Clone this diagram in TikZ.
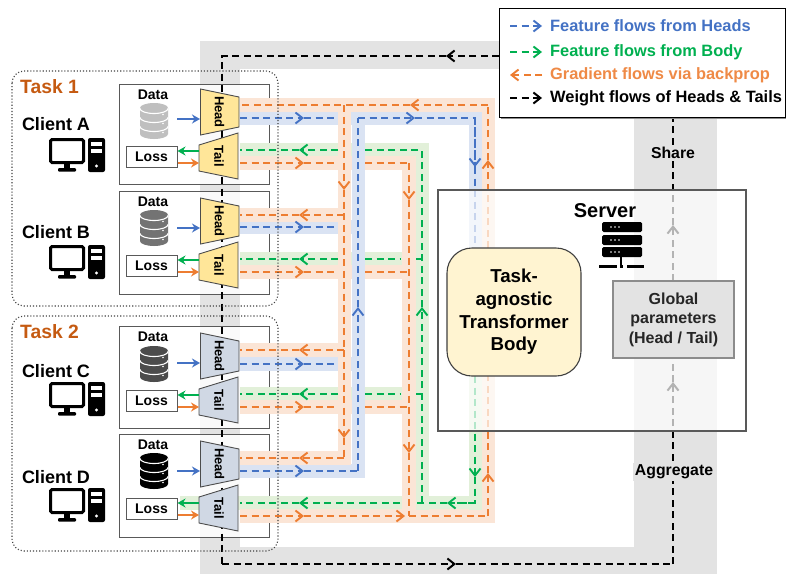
\documentclass[tikz,border=0pt]{standalone}
\usepackage{fontspec}
\setmainfont{Liberation Sans}[BoldFont={Liberation Sans Bold}]
\usetikzlibrary{arrows.meta}
\definecolor{cB}{HTML}{4472C4}
\definecolor{cG}{HTML}{00B050}
\definecolor{cO}{HTML}{ED7D31}
\definecolor{bB}{HTML}{DAE3F3}
\definecolor{bG}{HTML}{E2F0D9}
\definecolor{bO}{HTML}{FBE5D6}
\definecolor{band}{HTML}{E3E3E3}
\definecolor{yel}{HTML}{FFE699}
\definecolor{slate}{HTML}{D0D8E4}
\definecolor{edge}{HTML}{595959}
\definecolor{taskc}{HTML}{C55A11}
\newcommand\fsz[1]{\fontsize{#1}{#1}\selectfont\bfseries}
\tikzset{
  flow/.style={line width=1.9pt,dash pattern=on 7pt off 4.5pt,line join=miter},
  fb/.style={flow,draw=cB},
  fg/.style={flow,draw=cG},
  fo/.style={flow,draw=cO},
  fk/.style={flow,draw=black,line width=2pt},
  tip/.style={-{Straight Barb[length=7pt,width=11pt]}},
  short/.style={line width=2.4pt,-{Stealth[length=8pt,width=9pt]}},
  clbox/.style={draw=edge,line width=1pt,fill=white,fill opacity=.85},
  taskbox/.style={draw=black!75,line width=1.1pt,dotted,rounded corners=12pt},
  trap/.style={draw=black!70,line width=.9pt},
  rot/.style={rotate=-90,font=\fsz{13},text=black,inner sep=0pt},
  lossbox/.style={draw=edge,line width=1pt,fill=white,minimum width=51pt,minimum height=21pt,inner sep=0pt,font=\fsz{14}},
  lbl/.style={font=\fsz{14},inner sep=0pt},
  leg/.style={anchor=west,font=\fsz{16.4},inner sep=0pt}
}
\newcommand\hflow[4]{\draw[#1,tip](#2)--(#2 -| #3);\draw[#1](#2 -| #3)--(#2 -| #4);}
\newcommand\hback[4]{\draw[#1,tip](#2 -| #4)--(#2 -| #3);\draw[#1](#2 -| #3)--(#2);}
% db icon: colour
\newcommand\dbicon[1]{%
  \fill[#1] (140,108) arc[start angle=180,end angle=360,x radius=14,y radius=5] -- (168,134) arc[start angle=0,end angle=180,x radius=14,y radius=5] -- cycle;
  \foreach \yy in {108.5,117.5,126.5}{\draw[white,line width=1.1pt] (140,\yy) arc[start angle=180,end angle=0,x radius=14,y radius=5];
    \fill[white] (163,\yy+6) circle (.8);}
}
% pc icon
\newcommand\pcicon{%
  \draw[black,line width=3pt,rounded corners=1.5pt] (50.5,139.5) rectangle (83.5,162.5);
  \fill[black] (64,163) rectangle (70,169);
  \fill[black,rounded corners=1pt] (58,168) rectangle (76,171.5);
  \fill[black,rounded corners=2pt] (88,138) rectangle (105,172);
  \fill[white] (91,142) rectangle (102,146);
  \fill[white] (91,149) rectangle (102,153);
  \fill[white] (96.5,166) circle (1.6);
}
\newcommand\clientparts[3]{% name, dy, fill
\begin{scope}[shift={(0,#2)}]
  \draw[trap,fill=#3] (200.5,89) -- (239,97) -- (239,127) -- (200.5,135) -- cycle;
  \node[rot] (head#1) at (219.5,112) {Head};
  \draw[trap,fill=#3] (199,145) -- (238,133) -- (238,179) -- (199,171) -- cycle;
  \node[rot] (tail#1) at (219,156) {Tail};
  \node[lossbox] (loss#1) at (151.5,156.5) {Loss};
  \coordinate (hw#1) at (200,119);
  \coordinate (dbr#1) at (177,119);
  \draw[cB,short] (dbr#1) -- (hw#1);
  \coordinate (tg#1) at (199,151);
  \coordinate (to#1) at (199,163);
  \draw[cG,short] (tg#1) -- (loss#1.east |- tg#1);
  \draw[cO,short] (loss#1.east |- to#1) -- (to#1);
\end{scope}}
\begin{document}
\begin{tikzpicture}[x=1pt,y=-1pt]
\useasboundingbox (0,0) rectangle (786,574);
% gray routes
\fill[band] (200,41) rectangle (240,574);
\fill[band] (200,41) rectangle (500,69);
\fill[band] (634,110) rectangle (717,574);
\fill[band] (200,547) rectangle (717,574);
% client boxes
\draw[clbox] (119,84) rectangle (269,184);
\draw[clbox] (119,191) rectangle (269,294);
\draw[clbox] (119,326) rectangle (269,428);
\draw[clbox] (119,434) rectangle (269,537);
% coloured bands
\fill[bG] (240,143) rectangle (429,157);
\fill[bG] (240,252) rectangle (429,266);
\fill[bG] (240,387) rectangle (429,401);
\fill[bG] (180,496) rectangle (482,510);
\fill[bB] (240,112) rectangle (482,125);
\fill[bB] (240,220) rectangle (352,234);
\fill[bB] (240,357) rectangle (352,371);
\fill[bB] (240,464) rectangle (365,478);
\fill[bO] (240,98) rectangle (495,112);
\fill[bO] (240,156) rectangle (416,170);
\fill[bO] (240,208) rectangle (351,222);
\fill[bO] (240,265) rectangle (416,279);
\fill[bO] (240,343) rectangle (351,357);
\fill[bO] (240,400) rectangle (416,414);
\fill[bO] (240,451) rectangle (351,465);
\fill[bO] (240,509) rectangle (495,523);
\fill[bG] (415,143) rectangle (429,510);
\fill[bO] (402,156) rectangle (416,523);
\fill[bO] (338,98) rectangle (351,465);
\fill[bB] (352,112) rectangle (365,478);
\fill[bB] (469,112) rectangle (482,260);
\fill[bG] (469,370) rectangle (482,510);
\fill[bO] (482,98) rectangle (495,523);
% rows and columns
\foreach \nm/\yy in {Ao/105,Ab/118,Ag/150,At/163,Bo/215,Bb/227,Bg/259,Bt/272,Co/350,Cb/364,Cg/394,Ct/407,Do/458,Db/471,Dg/503,Dt/516}
  {\coordinate (\nm) at (240,\yy);}
\foreach \nm/\xx in {cOa/344,cBl/358,cOb/409,cGr/422,cSB/475,cSO/488,gL/338,gR/365,gO/400,gG/416,tL/299,tR/304}
  {\coordinate (\nm) at (\xx,0);}
% blue
\hflow{fb}{Ab}{tR}{gL}
\hflow{fb}{Bb}{tR}{gL}
\hflow{fb}{Cb}{tR}{gL}
\hflow{fb}{Db}{tR}{cBl}
\draw[fb,tip] (Db -| cBl) -- (358,307);
\draw[fb] (358,307) -- (358,118);
\draw[fb,tip] (358,118) -- (415,118);
\draw[fb] (415,118) -- (475,118) -- (475,167);
\draw[fb,tip] (475,118) -- (475,167);
\draw[fb] (475,167) -- (475,248);
% green
\draw[fg,tip] (475,376) -- (475,477);
\draw[fg] (475,477) -- (475,503) -- (447,503);
\draw[fg,tip] (475,503) -- (447,503);
\draw[fg] (447,503) -- (Dg -| gG);
\draw[fg,tip] (Dg -| cGr) -- (422,307);
\draw[fg] (422,307) -- (422,150) -- (Ag -| gR);
\hback{fg}{Ag}{tL}{gL}
\hback{fg}{Bg}{tL}{gL}
\hback{fg}{Cg}{tL}{gL}
\hback{fg}{Dg}{tL}{gO}
\draw[fg] (Bg -| gR) -- (Bg -| gO);
\draw[fg] (Bg -| gG) -- (Bg -| cGr);
\draw[fg] (Cg -| gR) -- (Cg -| gO);
\draw[fg] (Cg -| gG) -- (Cg -| cGr);
% orange from tails
\hflow{fo}{At}{tR}{gL}
\hflow{fo}{Bt}{tR}{gL}
\hflow{fo}{Ct}{tR}{gL}
\draw[fo,tip] (Dt) -- (Dt -| tR);
\draw[fo] (At -| gR) -- (409,163);
\draw[fo] (Bt -| gR) -- (409,272);
\draw[fo] (Ct -| gR) -- (409,407);
\draw[fo,tip] (409,163) -- (409,200);
\draw[fo] (409,200) -- (409,407);
\draw[fo,tip] (409,407) -- (409,453);
\draw[fo] (409,453) -- (409,516);
\draw[fo,tip] (304,516) -- (405,516);
\draw[fo] (409,516) -- (488,516);
\draw[fo,tip] (488,516) -- (488,473);
\draw[fo] (488,473) -- (488,376);
% orange from body to heads
\draw[fo,tip] (488,248) -- (488,160);
\draw[fo] (488,160) -- (488,105);
\draw[fo,tip] (488,105) -- (410,105);
\draw[fo] (410,105) -- (Ao);
\draw[fo,tip] (344,105) -- (344,190);
\draw[fo] (344,190) -- (344,350);
\draw[fo,tip] (344,350) -- (344,438);
\draw[fo] (344,438) -- (344,458);
\hback{fo}{Bo}{tL}{cOa}
\hback{fo}{Co}{tL}{cOa}
\hback{fo}{Do}{tL}{cOa}
% named server parts and black weight flow
\coordinate (legW) at (499,56);
\coordinate (legS) at (673,117);
\coordinate (cornerTL) at (222,56);
\coordinate (cornerBL) at (222,564);
\coordinate (cornerBR) at (673,564);
\draw[fk,tip] (legW) -- (446,56);
\draw[fk] (446,56) -- (cornerTL) -- (cornerBL);
\draw[fk,tip] (cornerBL) -- (456,564);
\draw[fk] (456,564) -- (cornerBR);
\draw[fk,tip] (cornerBR) -- (673,382);
\draw[fk] (673,382) -- (673,358);
\draw[fk,tip] (673,281) -- (673,225);
\draw[fk] (673,225) -- (legS);
\node[font=\fsz{15.8},fill=band,inner sep=2pt] (share) at (673,153) {Share};
\node[font=\fsz{15.8},fill=band,inner sep=2pt] (aggr) at (674,472) {Aggregate};
% server
\draw[draw=edge,line width=1.2pt,fill=white,fill opacity=.7] (438,190) rectangle (746,431);
\node[draw=black!75,line width=1.1pt,fill=yel!45,rounded corners=25pt,minimum width=134pt,minimum height=128pt,align=center,inner sep=0pt,font=\fontsize{18.7}{22.7}\selectfont\bfseries] (body) at (514,312) {Task-\\agnostic\\Transformer\\Body};
\node[draw=black!45,line width=1.2pt,fill=band,minimum width=121pt,minimum height=77pt,align=center,inner sep=0pt,text=black!85,font=\fontsize{16}{19.5}\selectfont\bfseries] (glob) at (673.5,319.5) {Global\\parameters\\(Head / Tail)};
\node[font=\fsz{20},inner sep=0pt] (srv) at (605,211) {Server};
\foreach \yy in {222,235,247}{
  \fill[black,rounded corners=1.5pt] (602,\yy) rectangle (642,\yy+10);
  \foreach \xx in {611,615,619}{\fill[white] (\xx,\yy+5) circle (.8);}
}
\fill[black] (620,257) rectangle (622,265);
\fill[black] (599,264.5) rectangle (617,267.5);
\fill[black] (619.5,264.5) rectangle (622.5,267.5);
\fill[black] (627,264.5) rectangle (644,267.5);
% task frames
\draw[taskbox] (12,71) rectangle (278,306);
\draw[taskbox] (12,316) rectangle (278,551);
\node[font=\fsz{19.3},text=taskc,anchor=west,inner sep=0pt] (t1) at (20,87) {Task 1};
\node[font=\fsz{19.3},text=taskc,anchor=west,inner sep=0pt] (t2) at (20,332) {Task 2};
% clients
\node[font=\fsz{18},inner sep=0pt] (cA) at (56,124) {Client A};
\node[font=\fsz{18},inner sep=0pt] (cB) at (56,232) {Client B};
\node[font=\fsz{18},inner sep=0pt] (cC) at (56,371) {Client C};
\node[font=\fsz{18},inner sep=0pt] (cD) at (56,477) {Client D};
\begin{scope}[shift={(0,0)}]\pcicon\dbicon{black!25}\end{scope}
\begin{scope}[shift={(0,107)}]\pcicon\end{scope}
\begin{scope}[shift={(0,244)}]\pcicon\end{scope}
\begin{scope}[shift={(0,350)}]\pcicon\end{scope}
\begin{scope}[shift={(0,107)}]\dbicon{black!55}\end{scope}
\begin{scope}[shift={(0,243)}]\dbicon{black!70}\end{scope}
\begin{scope}[shift={(0,350)}]\dbicon{black}\end{scope}
\node[lbl] (dA) at (153,95) {Data};
\node[lbl] (dB) at (153,202) {Data};
\node[lbl] (dC) at (153,337) {Data};
\node[lbl] (dD) at (153,445) {Data};
\clientparts{A}{0}{yel}
\clientparts{B}{109}{yel}
\clientparts{C}{244}{slate}
\clientparts{D}{352}{slate}
% legend
\fill[black!45] (501,10) rectangle (786,119);
\node[draw=black,line width=1pt,fill=white,minimum width=286pt,minimum height=109pt,inner sep=0pt] (legend) at (642,62.5) {};
\coordinate (la) at (510,26);
\coordinate (lb) at (510,52);
\coordinate (lc) at (510,75);
\coordinate (ld) at (510,98);
\draw[fb,tip] (la) -- ++(32,0);
\draw[fg,tip] (lb) -- ++(32,0);
\draw[fo,tip] (lc) ++(32,0) -- (lc);
\draw[fk,tip] (ld) -- ++(32,0);
\node[leg,text=cB] (l1) at (550,26) {Feature flows from Heads};
\node[leg,text=cG] (l2) at (550,52) {Feature flows from Body};
\node[leg,text=cO!90!white] (l3) at (550,75) {Gradient flows via backprop};
\node[leg] (l4) at (550,98) {Weight flows of Heads \& Tails};
\end{tikzpicture}
\end{document}
